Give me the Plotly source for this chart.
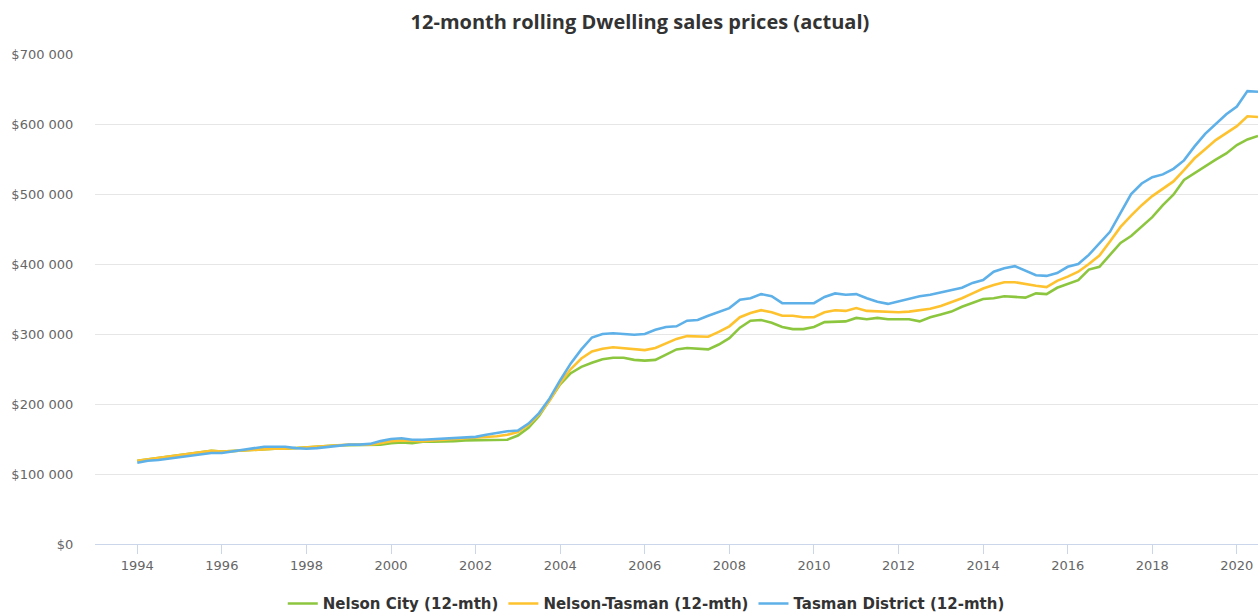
import plotly.graph_objects as go

# Quarterly periods, 1994 Q1 .. 2020 Q3 (decimal years)
start_year = 1994
n_quarters = 107
periods = [start_year + i * 0.25 for i in range(n_quarters)]

series_names = ["Nelson City (12-mth)", "Nelson-Tasman (12-mth)", "Tasman District (12-mth)"]

nelson_city = [
    119, 121, 122, 124, 127, 129, 131, 133,
    132, 133, 134, 135, 136, 136, 136, 137,
    138, 139, 141, 141, 141, 141, 141, 142,
    144, 145, 144, 146, 146, 146, 147, 148,
    148, 149, 149, 149, 155, 166, 183, 205,
    228, 244, 253, 259, 264, 266, 266, 263,
    262, 263, 270, 278, 280, 279, 278, 285,
    294, 309, 319, 320, 316, 310, 307, 307,
    310, 317, 317, 318, 323, 321, 323, 321,
    321, 321, 318, 324, 328, 332, 339, 345,
    350, 351, 354, 353, 352, 358, 357, 366,
    372, 377, 392, 396, 413, 430, 440, 454,
    467, 484, 499, 520, 530, 540, 549, 558,
    570, 578, 583,
]

nelson_tasman = [
    119, 121, 123, 125, 128, 130, 132, 133,
    132, 133, 134, 134, 135, 136, 136, 137,
    138, 139, 141, 142, 142, 142, 142, 144,
    147, 148, 147, 147, 148, 149, 150, 150,
    151, 152, 154, 156, 160, 170, 185, 205,
    230, 250, 265, 275, 279, 281, 280, 279,
    277, 280, 287, 293, 297, 296, 296, 303,
    311, 324, 330, 334, 331, 326, 326, 324,
    324, 331, 334, 333, 337, 333, 332, 331,
    331, 332, 334, 336, 340, 345, 351, 358,
    365, 370, 374, 374, 371, 369, 367, 376,
    382, 389, 400, 412, 432, 453, 469, 484,
    497, 507, 518, 534, 551, 564, 577, 587,
    597, 611, 610,
]

tasman_district = [
    116, 119, 120, 122, 125, 127, 129, 130,
    130, 132, 134, 136, 139, 139, 139, 137,
    136, 137, 139, 140, 142, 142, 143, 147,
    150, 151, 149, 149, 150, 151, 152, 153,
    153, 156, 159, 161, 162, 172, 187, 208,
    234, 258, 278, 295, 300, 301, 300, 299,
    300, 306, 310, 311, 319, 320, 326, 331,
    337, 349, 351, 357, 354, 344, 344, 344,
    344, 353, 358, 356, 357, 351, 346, 343,
    347, 350, 354, 356, 359, 362, 366, 373,
    377, 389, 394, 397, 391, 384, 383, 387,
    396, 400, 413, 430, 446, 473, 500, 515,
    524, 528, 536, 548, 568, 586, 600, 614,
    625, 647, 646,
]

colors = ["#8cc63f", "#fdc22e", "#5eb0e8"]

x_ticks = list(range(1994, 2021, 2))
y_ticks = list(range(0, 700001, 100000))
y_tick_labels = ["$0", "$100 000", "$200 000", "$300 000", "$400 000",
                 "$500 000", "$600 000", "$700 000"]

fig = go.Figure()
for name, vals, col in zip(series_names, [nelson_city, nelson_tasman, tasman_district], colors):
    fig.add_trace(go.Scatter(
        x=periods,
        y=[v * 1000 for v in vals],
        mode="lines",
        name=name,
        line=dict(color=col, width=2.6),
    ))

fig.update_layout(
    width=1258,
    height=612,
    paper_bgcolor="white",
    plot_bgcolor="white",
    margin=dict(l=95, r=0, t=54, b=68, autoexpand=False),
    title=dict(
        text="12-month rolling Dwelling sales prices (actual)",
        x=0.5087, xanchor="center", y=0.964, yanchor="middle",
        font=dict(family="Open Sans", size=20, color="#333333", weight="bold"),
    ),
    legend=dict(
        orientation="h",
        x=0.474, xanchor="center",
        y=-0.122, yanchor="middle",
        font=dict(family="DejaVu Sans", size=15, color="#333333", weight="bold"),
        itemwidth=30,
        tracegroupgap=0,
    ),
    showlegend=True,
    hovermode=False,
)

fig.update_xaxes(
    range=[1993, 2020.5],
    tickvals=x_ticks,
    ticktext=[str(t) for t in x_ticks],
    showgrid=False,
    showline=True,
    linecolor="#ccd6eb",
    linewidth=1,
    ticks="outside",
    ticklen=9,
    tickcolor="#ccd6eb",
    tickfont=dict(family="DejaVu Sans", size=13, color="#666666"),
    zeroline=False,
)

fig.update_yaxes(
    range=[0, 700000],
    tickvals=y_ticks,
    ticktext=y_tick_labels,
    showgrid=True,
    gridcolor="#e6e6e6",
    gridwidth=1,
    zeroline=False,
    showline=False,
    ticks="outside",
    ticklen=18,
    tickcolor="rgba(0,0,0,0)",
    tickfont=dict(family="DejaVu Sans", size=13, color="#666666"),
)

fig.write_html(
    "out.html",
    config={"displayModeBar": False},
    post_script="document.documentElement.style.overflow='hidden';"
                "document.body.style.margin='0';document.body.style.overflow='hidden';",
)
